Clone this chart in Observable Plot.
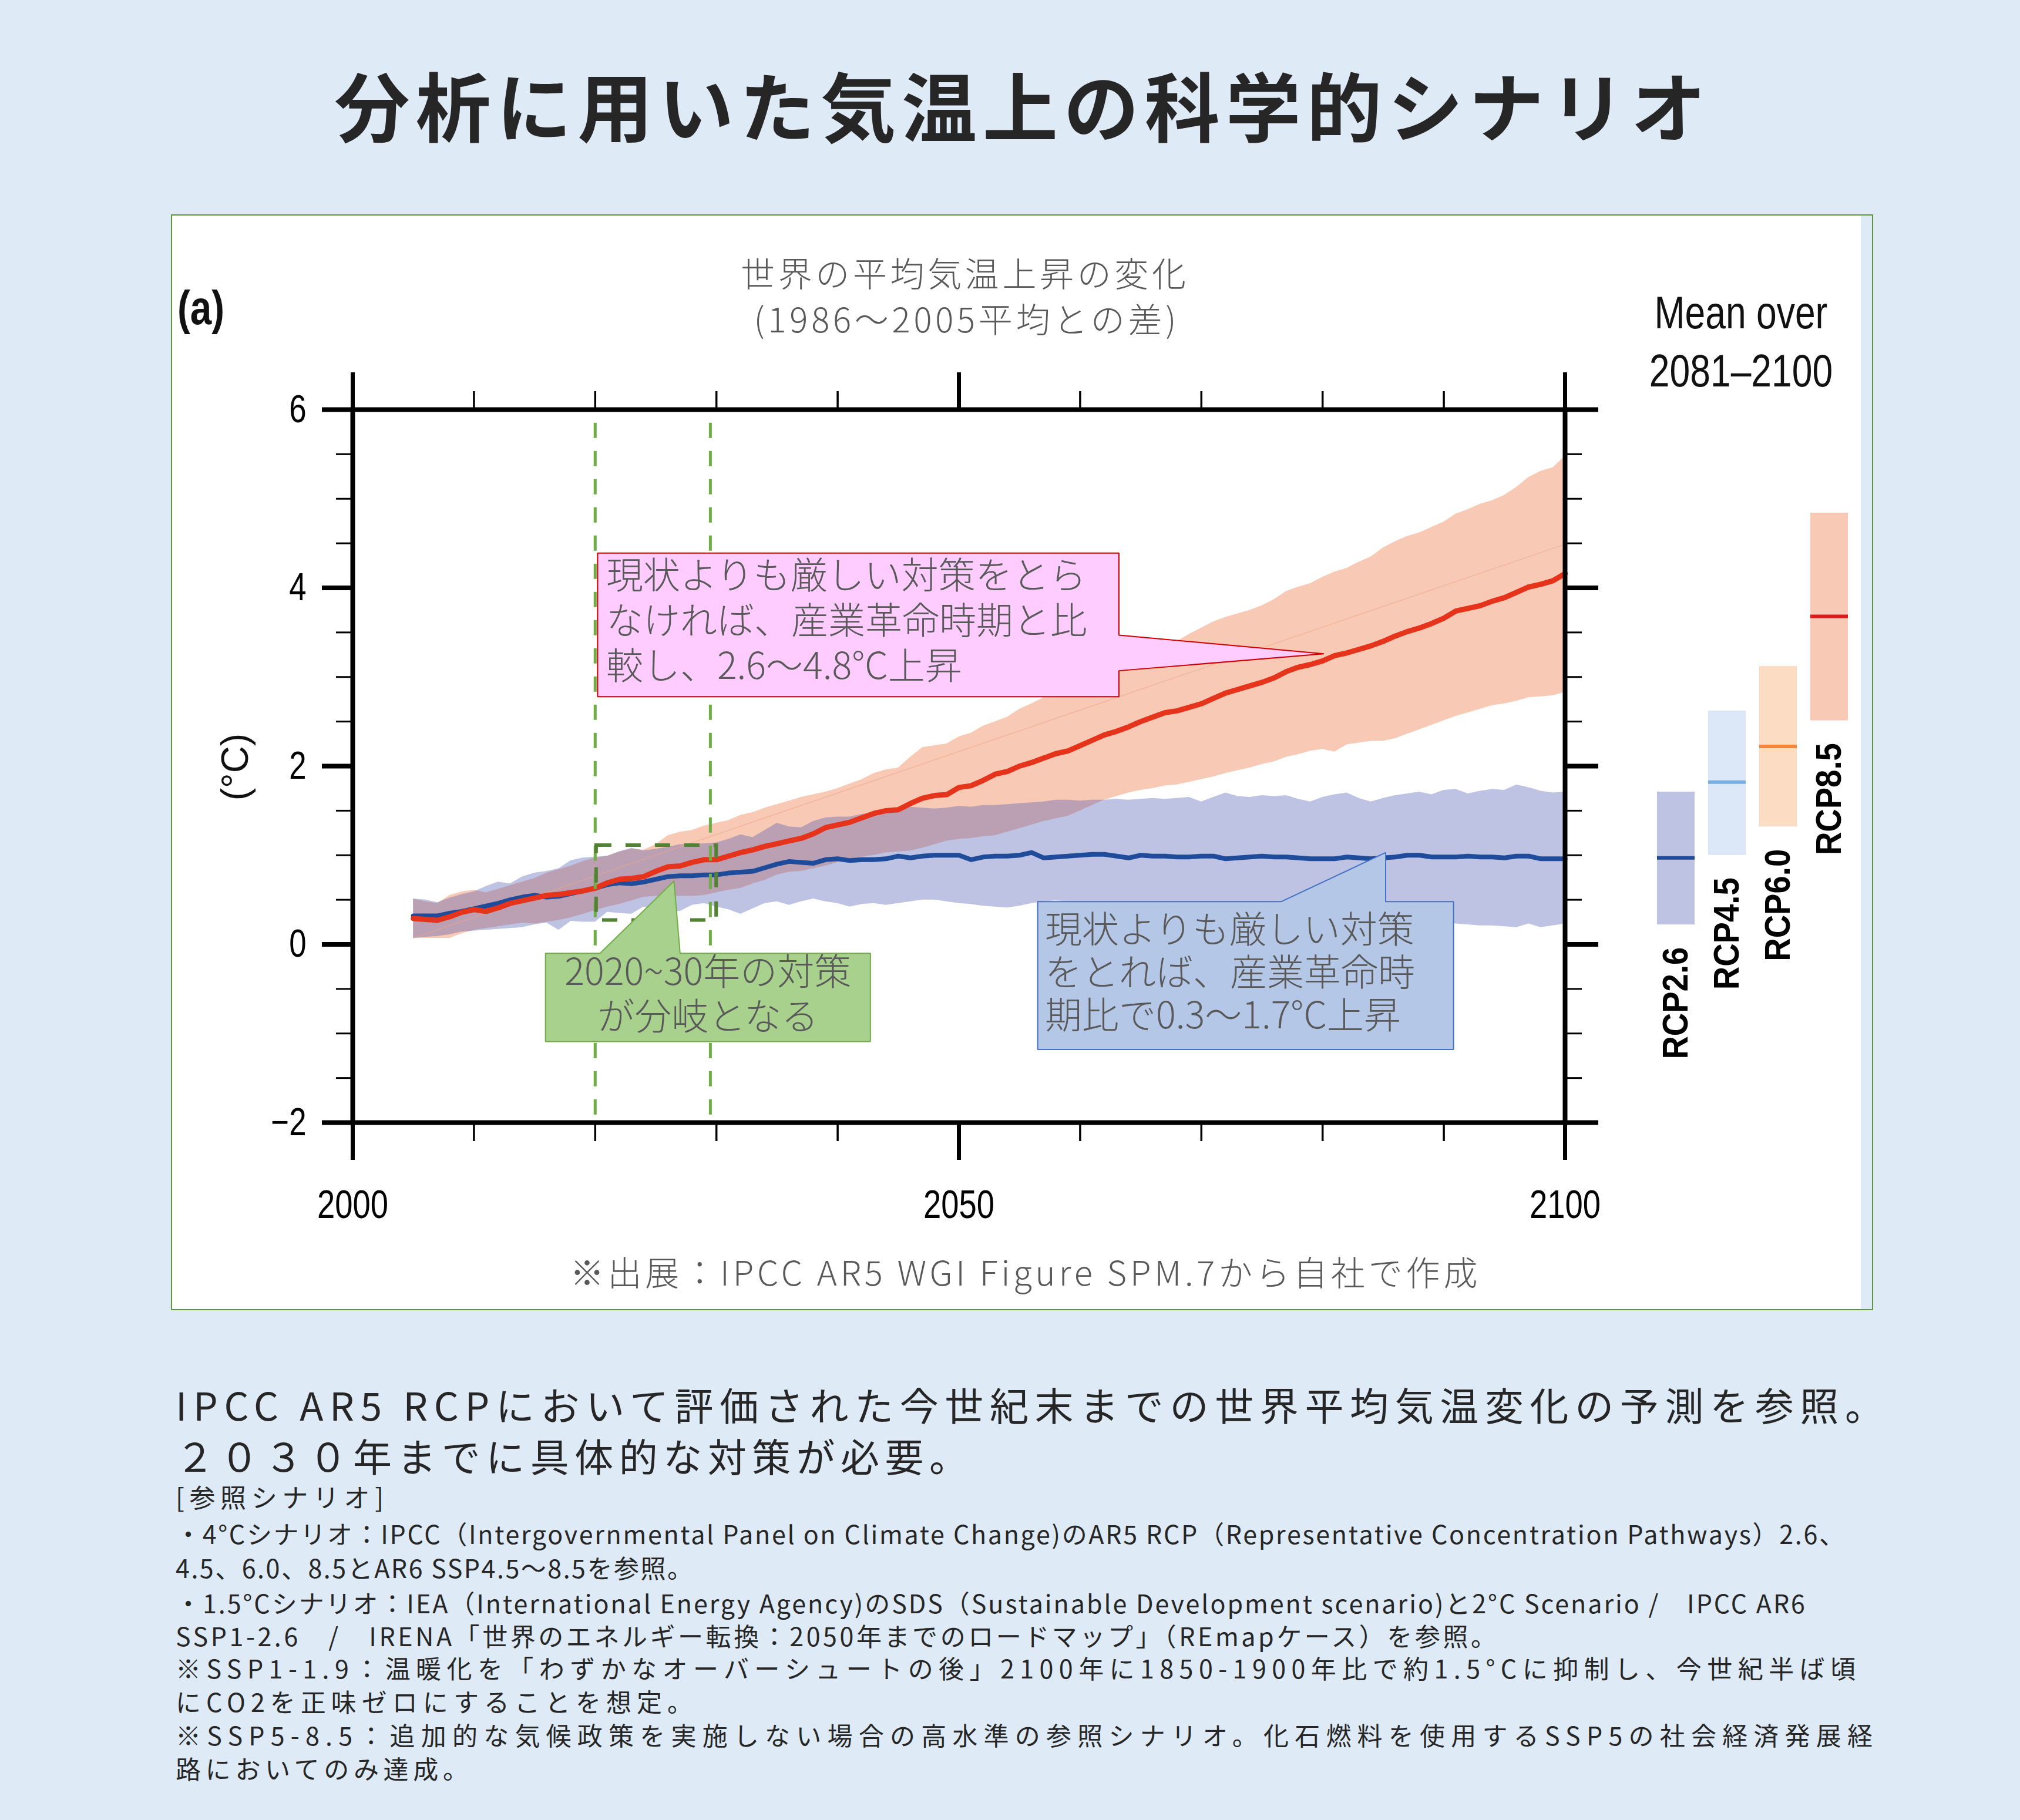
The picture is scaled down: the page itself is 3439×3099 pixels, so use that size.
<!DOCTYPE html>
<html><head><meta charset="utf-8">
<script src="https://cdn.jsdelivr.net/npm/d3@7"></script>
<script src="https://cdn.jsdelivr.net/npm/@observablehq/plot@0.6"></script>
<style>
html,body{margin:0;padding:0;background:#deebf7;}
#page{position:relative;width:3439px;height:3099px;overflow:hidden;background:#deebf7;}
#panel{position:absolute;left:291px;top:365px;width:2898px;height:1866px;background:#fff;border:2px solid #5f9440;box-sizing:border-box;}
#panelStrip{position:absolute;right:0;top:0;width:19px;height:100%;background:#deebf7;}
.abs{position:absolute;}
</style></head>
<body><div id="page">
<div id="panel"><div id="panelStrip"></div></div>
<div id="main" class="abs" style="left:292px;top:366px;width:2480px;height:1760px"></div>
<div id="bars" class="abs" style="left:2780px;top:366px;width:420px;height:1760px"></div>
<svg id="overlay" class="abs" width="3439" height="3099" style="left:0;top:0;pointer-events:none">
  <g font-family="'Noto Sans CJK JP',sans-serif">
    <text x="1737" y="176" text-anchor="middle" dominant-baseline="central" font-weight="700" font-size="128" fill="#262626" textLength="2335" lengthAdjust="spacing">分析に用いた気温上の科学的シナリオ</text>
    <text x="1640" y="463" text-anchor="middle" dominant-baseline="central" font-weight="300" font-size="58" fill="#595959" textLength="758" lengthAdjust="spacing">世界の平均気温上昇の変化</text>
    <text x="1643" y="541" text-anchor="middle" dominant-baseline="central" font-weight="300" font-size="58" fill="#595959" textLength="719" lengthAdjust="spacing">(1986～2005平均との差)</text>
    <text x="1743" y="2164" text-anchor="middle" dominant-baseline="central" font-weight="300" font-size="58" fill="#595959" textLength="1545" lengthAdjust="spacing">※出展：IPCC AR5 WGI Figure SPM.7から自社で作成</text>
  </g>
  <g font-family="'Liberation Sans',sans-serif" fill="#111">
    <text transform="translate(302,552) scale(0.8,1)" font-weight="700" font-size="82">(a)</text>
    <text transform="translate(2964,559) scale(0.8,1)" text-anchor="middle" font-size="78">Mean over</text>
    <text transform="translate(2964,658) scale(0.8,1)" text-anchor="middle" font-size="78">2081–2100</text>
    <text transform="translate(400,1306) rotate(-90)" text-anchor="middle" dominant-baseline="central" font-size="64">(°C)</text>
  </g>
  <g font-family="'Noto Sans CJK JP',sans-serif" fill="#262626" dominant-baseline="central">
    <text x="299" y="2390" font-size="66" textLength="2908" lengthAdjust="spacing">IPCC AR5 RCPにおいて評価された今世紀末までの世界平均気温変化の予測を参照。</text>
    <text x="299" y="2477" font-size="66" textLength="1349" lengthAdjust="spacing">２０３０年までに具体的な対策が必要。</text>
    <text x="299" y="2548" font-size="44" textLength="354" lengthAdjust="spacing">[参照シナリオ]</text>
    <text x="299" y="2610" font-size="43" textLength="2841" lengthAdjust="spacing">・4°Cシナリオ：IPCC（Intergovernmental Panel on Climate Change)のAR5 RCP（Representative Concentration Pathways）2.6、</text>
    <text x="299" y="2668" font-size="43" textLength="880" lengthAdjust="spacing">4.5、6.0、8.5とAR6 SSP4.5～8.5を参照。</text>
    <text x="299" y="2728" font-size="43" textLength="2774" lengthAdjust="spacing">・1.5°Cシナリオ：IEA（International Energy Agency)のSDS（Sustainable Development scenario)と2°C Scenario /　IPCC AR6</text>
    <text x="299" y="2784" font-size="43" textLength="2248" lengthAdjust="spacing">SSP1-2.6　/　IRENA「世界のエネルギー転換：2050年までのロードマップ」（REmapケース）を参照。</text>
    <text x="299" y="2839" font-size="43" textLength="2860" lengthAdjust="spacing">※SSP1-1.9：温暖化を「わずかなオーバーシュートの後」2100年に1850-1900年比で約1.5°Cに抑制し、今世紀半ば頃</text>
    <text x="299" y="2896" font-size="43" textLength="880" lengthAdjust="spacing">にCO2を正味ゼロにすることを想定。</text>
    <text x="299" y="2953" font-size="43" textLength="2889" lengthAdjust="spacing">※SSP5-8.5：追加的な気候政策を実施しない場合の高水準の参照シナリオ。化石燃料を使用するSSP5の社会経済発展経</text>
    <text x="299" y="3010" font-size="43" textLength="498" lengthAdjust="spacing">路においてのみ達成。</text>
  </g>
</svg>
</div>
<script>
// ---------- data ----------
const startYear = 2005;
const rcp85Mean = [
  0.29,0.28,0.27,0.31,0.36,0.39,0.37,0.41,0.46,0.49,
  0.52,0.55,0.56,0.58,0.60,0.63,0.69,0.73,0.74,0.76,
  0.82,0.87,0.88,0.92,0.95,0.95,0.99,1.03,1.06,1.10,
  1.13,1.16,1.19,1.24,1.31,1.34,1.37,1.42,1.47,1.50,
  1.51,1.58,1.64,1.67,1.68,1.76,1.78,1.84,1.91,1.94,
  2.00,2.04,2.09,2.14,2.17,2.23,2.29,2.35,2.39,2.44,
  2.50,2.55,2.60,2.62,2.66,2.70,2.76,2.82,2.86,2.90,
  2.94,2.99,3.06,3.11,3.14,3.18,3.24,3.27,3.31,3.35,
  3.40,3.46,3.51,3.55,3.60,3.66,3.74,3.77,3.80,3.85,
  3.89,3.95,4.01,4.04,4.08,4.16];
const rcp85Hi = [
  0.51,0.48,0.46,0.55,0.59,0.61,0.58,0.62,0.66,0.70,
  0.74,0.80,0.84,0.88,0.93,0.97,0.99,1.04,1.07,1.06,
  1.12,1.22,1.26,1.28,1.33,1.36,1.39,1.45,1.48,1.53,
  1.57,1.61,1.65,1.68,1.71,1.75,1.80,1.85,1.92,1.96,
  1.98,2.10,2.21,2.23,2.25,2.33,2.37,2.45,2.50,2.55,
  2.64,2.70,2.77,2.82,2.90,2.96,3.01,3.07,3.13,3.18,
  3.25,3.29,3.34,3.40,3.48,3.55,3.62,3.67,3.71,3.75,
  3.80,3.87,3.96,4.01,4.05,4.12,4.18,4.22,4.29,4.35,
  4.45,4.52,4.58,4.62,4.68,4.74,4.83,4.88,4.94,4.98,
  5.04,5.13,5.24,5.31,5.35,5.48];
const rcp85Lo = [
  0.07,0.07,0.07,0.07,0.12,0.16,0.18,0.20,0.22,0.24,
  0.23,0.25,0.27,0.30,0.34,0.38,0.42,0.45,0.49,0.53,
  0.54,0.54,0.54,0.54,0.55,0.58,0.61,0.63,0.68,0.72,
  0.78,0.81,0.82,0.85,0.88,0.92,0.95,0.98,1.00,1.03,
  1.04,1.05,1.08,1.12,1.16,1.18,1.19,1.21,1.22,1.26,
  1.30,1.34,1.38,1.41,1.44,1.50,1.56,1.62,1.66,1.70,
  1.73,1.75,1.78,1.79,1.82,1.85,1.88,1.92,1.95,1.98,
  2.02,2.05,2.10,2.13,2.17,2.19,2.16,2.24,2.26,2.28,
  2.28,2.31,2.36,2.41,2.46,2.51,2.56,2.60,2.64,2.68,
  2.70,2.73,2.77,2.78,2.79,2.83];
const rcp26Mean = [
  0.32,0.32,0.32,0.35,0.37,0.40,0.43,0.46,0.50,0.53,
  0.55,0.53,0.54,0.57,0.60,0.63,0.67,0.69,0.68,0.70,
  0.73,0.76,0.77,0.77,0.78,0.78,0.80,0.81,0.82,0.86,
  0.90,0.93,0.92,0.91,0.95,0.96,0.94,0.95,0.95,0.96,
  0.99,0.97,0.99,1.00,1.00,1.00,0.95,0.98,0.99,0.99,
  1.00,1.03,0.97,0.98,0.99,1.00,1.01,1.01,0.99,0.97,
  1.00,0.99,0.99,0.98,0.98,0.99,0.99,0.96,0.97,0.98,
  0.99,0.98,0.98,0.97,0.96,0.96,0.96,0.98,0.97,0.96,
  0.97,0.98,1.00,1.00,0.98,0.98,0.98,0.99,0.98,0.98,
  0.97,0.99,0.99,0.96,0.96,0.96];
const rcp26Hi = [
  0.51,0.50,0.47,0.52,0.56,0.59,0.65,0.70,0.68,0.76,
  0.80,0.82,0.85,0.94,0.97,0.98,0.99,1.04,1.08,1.05,
  1.07,1.09,1.12,1.12,1.13,1.14,1.18,1.23,1.20,1.28,
  1.36,1.32,1.31,1.38,1.42,1.43,1.43,1.46,1.47,1.48,
  1.50,1.54,1.53,1.52,1.53,1.55,1.54,1.56,1.56,1.57,
  1.58,1.59,1.60,1.62,1.62,1.61,1.62,1.62,1.63,1.62,
  1.63,1.64,1.63,1.64,1.65,1.60,1.65,1.70,1.66,1.65,
  1.67,1.66,1.67,1.63,1.60,1.65,1.68,1.70,1.64,1.60,
  1.64,1.67,1.69,1.71,1.68,1.73,1.74,1.69,1.72,1.74,
  1.73,1.79,1.76,1.72,1.70,1.71];
const rcp26Lo = [
  0.07,0.08,0.09,0.11,0.14,0.15,0.16,0.17,0.18,0.19,
  0.22,0.24,0.16,0.26,0.25,0.25,0.36,0.35,0.34,0.42,
  0.40,0.38,0.37,0.44,0.46,0.42,0.39,0.34,0.40,0.46,
  0.48,0.44,0.48,0.51,0.48,0.46,0.42,0.45,0.46,0.44,
  0.46,0.48,0.50,0.50,0.48,0.46,0.45,0.43,0.42,0.41,
  0.43,0.46,0.48,0.49,0.48,0.47,0.47,0.46,0.46,0.45,
  0.45,0.44,0.43,0.42,0.41,0.41,0.40,0.39,0.39,0.38,
  0.38,0.37,0.36,0.36,0.35,0.34,0.34,0.33,0.32,0.31,
  0.29,0.28,0.27,0.26,0.25,0.24,0.23,0.22,0.21,0.21,
  0.20,0.19,0.23,0.19,0.21,0.23];
const trendGuide = [{year: 2005, value: 0.07}, {year: 2100, value: 4.49}];

const scenarios = ["RCP2.6", "RCP4.5", "RCP6.0", "RCP8.5"];
const meanLow  = [0.22, 1.00, 1.32, 2.51];
const meanHigh = [1.71, 2.62, 3.12, 4.84];
const meanMid  = [0.97, 1.82, 2.22, 3.68];
const barFill  = ["#bfc3e3", "#dce8f7", "#fcdcc3", "#f8c9b4"];
const barLine  = ["#1f4b9b", "#79b0e3", "#f0873a", "#e3191c"];

const yMajor = [-2, 0, 2, 4, 6];
const yMinor = [-1.5, -1, -0.5, 0.5, 1, 1.5, 2.5, 3, 3.5, 4.5, 5, 5.5];
const xMajor = [2000, 2050, 2100];
const xMinor = [2010, 2020, 2030, 2040, 2060, 2070, 2080, 2090];

const divergeYears = [2020, 2029.5];
const divergeBox = [{x1: 2020.1, x2: 2030.0, y1: 0.27, y2: 1.11}];

// annotation callouts (in data units)
const callouts = [
  {fill: "#ffccff", stroke: "#d00000",
   shape: [[2020.2,4.39],[2063.2,4.39],[2063.2,3.47],[2080.1,3.26],[2063.2,3.07],[2063.2,2.78],[2020.2,2.78],[2020.2,4.39]],
   lines: ["現状よりも厳しい対策をとら", "なければ、産業革命時期と比", "較し、2.6～4.8°C上昇"], tx: 2020.9, ty: 3.62, anchor: "start", gap: 77},
  {fill: "#a9d18e", stroke: "#70ad47",
   shape: [[2015.9,-0.10],[2020.4,-0.10],[2026.5,0.71],[2027.0,-0.10],[2042.7,-0.10],[2042.7,-1.09],[2015.9,-1.09],[2015.9,-0.10]],
   lines: ["2020~30年の対策", "が分岐となる"], tx: 2029.3, ty: -0.57, anchor: "middle", gap: 76},
  {fill: "#b4c7e7", stroke: "#4472c4",
   shape: [[2056.5,0.48],[2076.6,0.48],[2085.2,1.03],[2085.2,0.48],[2090.8,0.48],[2090.8,-1.18],[2056.5,-1.18],[2056.5,0.48]],
   lines: ["現状よりも厳しい対策", "をとれば、産業革命時", "期比で0.3～1.7°C上昇"], tx: 2057.1, ty: -0.33, anchor: "start", gap: 73}
];

// ---------- build ----------
const rows = rcp85Mean.map((v, i) => ({
  year: startYear + i, m85: v, lo85: rcp85Lo[i], hi85: rcp85Hi[i],
  m26: rcp26Mean[i], lo26: rcp26Lo[i], hi26: rcp26Hi[i]
}));
const barRows = scenarios.map((name, i) => ({name, lo: meanLow[i], hi: meanHigh[i], mean: meanMid[i], fill: barFill[i], line: barLine[i]}));

const narrow = "'Liberation Sans',sans-serif";
const cjk = "'Noto Sans CJK JP',sans-serif";
const blank = () => "";
const minusFmt = d => d < 0 ? `−${-d}` : `${d}`;

const calloutMarks = callouts.flatMap(c => [
  Plot.line(c.shape.map(([x, y]) => ({x, y})), {x: "x", y: "y", fill: c.fill, stroke: c.stroke, strokeWidth: 2, strokeLinejoin: "miter"}),
  ...c.lines.map((line, i) => Plot.text([c], {
    x: "tx", y: "ty", text: () => line, dy: (i - (c.lines.length - 1) / 2) * c.gap,
    textAnchor: c.anchor, lineAnchor: "middle",
    fontSize: 63, fontFamily: cjk, fontWeight: 300, fill: "#595959"}))
]);

const main = Plot.plot({
  width: 2480, height: 1760,
  marginLeft: 308, marginRight: 108, marginTop: 331, marginBottom: 215,
  x: {domain: [2000, 2100]},
  y: {domain: [-2, 6]},
  style: {background: "transparent", overflow: "visible", color: "black"},
  marks: [
    Plot.areaY(rows, {x: "year", y1: "lo85", y2: "hi85", fill: "#f8c9b4"}),
    Plot.areaY(rows, {x: "year", y1: "lo26", y2: "hi26", fill: "#4854af", fillOpacity: 0.35}),
    Plot.line(trendGuide, {x: "year", y: "value", stroke: "#eea88c", strokeWidth: 1.5, strokeOpacity: 0.6}),
    Plot.line(rows, {x: "year", y: "m26", stroke: "#1f4b9b", strokeWidth: 8}),
    Plot.line(rows, {x: "year", y: "m85", stroke: "#e5331c", strokeWidth: 9}),
    Plot.ruleX(divergeYears, {y1: 5.85, y2: -2, stroke: "#70ad47", strokeWidth: 5, strokeDasharray: "26,22"}),
    Plot.rect(divergeBox, {x1: "x1", x2: "x2", y1: "y1", y2: "y2", fill: "none", stroke: "#548235", strokeWidth: 6, strokeDasharray: "26,24"}),
    ...calloutMarks,
    Plot.axisY(yMinor, {anchor: "left", tickSize: 28, strokeWidth: 3, tickFormat: blank, label: null}),
    Plot.axisY(yMinor, {anchor: "right", tickSize: 28, strokeWidth: 3, tickFormat: blank, label: null}),
    Plot.axisY(yMajor, {anchor: "left", tickSize: 52, strokeWidth: 8, tickPadding: 27, tickFormat: minusFmt, fontSize: 66, fontFamily: narrow, label: null}),
    Plot.axisY(yMajor, {anchor: "right", tickSize: 56, strokeWidth: 8, tickFormat: blank, label: null}),
    Plot.axisX(xMinor, {anchor: "bottom", tickSize: 32, strokeWidth: 3.5, tickFormat: blank, label: null}),
    Plot.axisX(xMinor, {anchor: "top", tickSize: 32, strokeWidth: 3.5, tickFormat: blank, label: null}),
    Plot.axisX(xMajor, {anchor: "bottom", tickSize: 64, strokeWidth: 7, tickPadding: 50, tickFormat: "d", fontSize: 68, fontFamily: narrow, label: null}),
    Plot.axisX(xMajor, {anchor: "top", tickSize: 64, strokeWidth: 7, tickFormat: blank, label: null}),
    Plot.frame({stroke: "black", strokeWidth: 8})
  ]
});

// condense the tick-label font (narrow face not installed) and drop empty tick texts
function condense(svg, sx) {
  svg.querySelectorAll("text").forEach(t => {
    if (t.textContent === "") { t.remove(); return; }
    const g = t.closest("g[font-family]");
    if (g && g.getAttribute("font-family").includes("Liberation")) {
      t.setAttribute("transform", (t.getAttribute("transform") || "") + ` scale(${sx},1)`);
    }
  });
}
condense(main, 0.8);
document.getElementById("main").appendChild(main);

const bars = Plot.plot({
  width: 420, height: 1760,
  marginLeft: 41, marginRight: 53, marginTop: 331, marginBottom: 215,
  x: {domain: scenarios, paddingInner: 0.264, paddingOuter: 0, axis: null},
  y: {domain: [-2, 6], axis: null},
  color: {type: "identity"},
  style: {background: "transparent", overflow: "visible", color: "black"},
  marks: [
    Plot.barY(barRows, {x: "name", y1: "lo", y2: "hi", fill: "fill"}),
    Plot.tickY(barRows, {x: "name", y: "mean", stroke: "line", strokeWidth: 6}),
    Plot.text(barRows, {x: "name", y: "lo", text: "name", rotate: -90, textAnchor: "end", dy: 38,
                        fontSize: 62, fontWeight: 600, fontFamily: narrow, fill: "black"})
  ]
});
condense(bars, 0.88);
document.getElementById("bars").appendChild(bars);
</script>
</body></html>
